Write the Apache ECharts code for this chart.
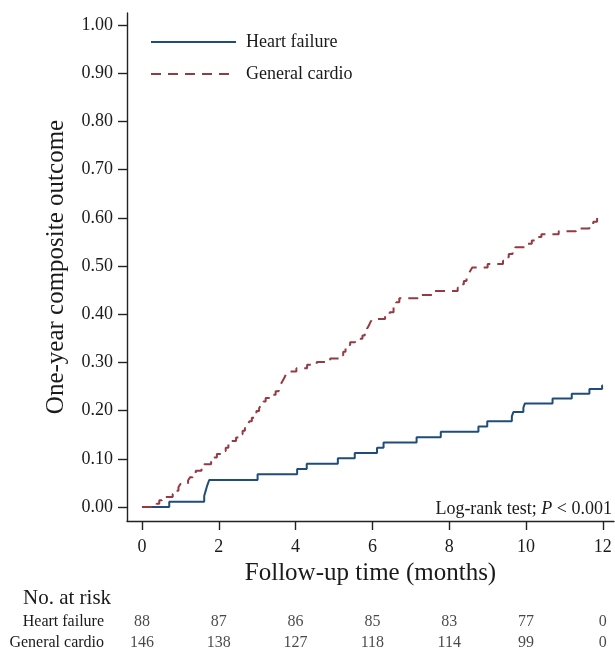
<!DOCTYPE html>
<html><head><meta charset="utf-8">
<script src="https://cdn.jsdelivr.net/npm/echarts@6/dist/echarts.min.js"></script>
<style>html,body{margin:0;padding:0;background:#fff}#c{width:615px;height:653px}</style>
</head><body><div id="c"></div>
<script>
const xTicks = [0, 2, 4, 6, 8, 10, 12];
const yTicks = [0, 0.1, 0.2, 0.3, 0.4, 0.5, 0.6, 0.7, 0.8, 0.9, 1.0];
const seriesNames = ['Heart failure', 'General cardio'];

const hfTime  = [0, 0.71, 1.62, 1.66, 1.70, 1.75, 3.01, 4.04, 4.29, 5.10, 5.54, 6.12, 6.29, 7.15, 7.78, 8.76, 8.99, 9.63, 9.67, 9.93, 9.97, 10.69, 11.19, 11.65, 11.98, 12.0];
const hfValue = [0, 0.011, 0.023, 0.034, 0.045, 0.056, 0.068, 0.079, 0.090, 0.101, 0.112, 0.123, 0.134, 0.145, 0.156, 0.167, 0.178, 0.188, 0.197, 0.206, 0.215, 0.225, 0.235, 0.245, 0.252, 0.252];

const gcTime  = [0, 0.38, 0.45, 0.52, 0.80, 0.88, 0.95, 1.00, 1.20, 1.25, 1.32, 1.40, 1.55, 1.62, 1.80, 1.88, 1.95, 2.10, 2.18, 2.25, 2.32, 2.45, 2.55, 2.62, 2.68, 2.75, 2.80, 2.86, 2.92, 2.98, 3.05, 3.10, 3.16, 3.22, 3.40, 3.48, 3.56, 3.60, 3.65, 3.70, 3.74, 3.78, 4.02, 4.30, 4.55, 4.90, 5.18, 5.24, 5.30, 5.36, 5.42, 5.55, 5.74, 5.80, 5.86, 5.91, 5.95, 6.00, 6.33, 6.45, 6.55, 6.62, 6.70, 7.28, 7.60, 8.22, 8.30, 8.38, 8.45, 8.50, 8.55, 8.60, 9.00, 9.40, 9.48, 9.55, 9.65, 9.72, 10.05, 10.15, 10.30, 10.40, 10.85, 11.30, 11.65, 11.75, 11.85, 11.93];
const gcValue = [0, 0.007, 0.014, 0.021, 0.027, 0.034, 0.041, 0.048, 0.055, 0.062, 0.068, 0.075, 0.082, 0.089, 0.096, 0.103, 0.110, 0.116, 0.123, 0.130, 0.137, 0.144, 0.151, 0.158, 0.164, 0.171, 0.178, 0.185, 0.192, 0.199, 0.205, 0.212, 0.219, 0.226, 0.233, 0.240, 0.247, 0.253, 0.260, 0.267, 0.274, 0.281, 0.288, 0.295, 0.301, 0.308, 0.315, 0.322, 0.329, 0.336, 0.342, 0.349, 0.356, 0.363, 0.370, 0.377, 0.384, 0.390, 0.397, 0.404, 0.418, 0.425, 0.433, 0.440, 0.448, 0.455, 0.462, 0.469, 0.476, 0.483, 0.490, 0.497, 0.504, 0.511, 0.518, 0.525, 0.532, 0.539, 0.546, 0.553, 0.560, 0.566, 0.572, 0.578, 0.585, 0.592, 0.600, 0.600];

const riskTimes = [0, 2, 4, 6, 8, 10, 12];
const hfRisk = [88, 87, 86, 85, 83, 77, 0];
const gcRisk = [146, 138, 127, 118, 114, 99, 0];

const FONT = 'Liberation Serif';
const TXT = '#1a1a1a';
const BLUE = '#1f4d78';
const RED = '#943a42';

const zip = (a, b) => a.map((t, i) => [t, b[i]]);

const chart = echarts.init(document.getElementById('c'), null, {renderer: 'canvas'});
chart.setOption({
  backgroundColor: '#fff',
  animation: false,
  textStyle: {fontFamily: FONT, color: TXT},
  grid: [
    {left: 127, top: 13, width: 487, height: 508},
    {left: 127, top: 612, width: 487, height: 42}
  ],
  xAxis: [{
    type: 'value', gridIndex: 0, min: -0.39, max: 12.29,
    name: 'Follow-up time (months)', nameLocation: 'middle', nameGap: 31,
    nameTextStyle: {fontFamily: FONT, fontSize: 25, color: TXT},
    axisLine: {onZero: false, lineStyle: {color: '#222', width: 1.4}},
    axisTick: {customValues: xTicks, length: 9, lineStyle: {color: '#222', width: 1.4}},
    axisLabel: {customValues: xTicks, fontFamily: FONT, fontSize: 18, color: TXT, margin: 17, formatter: v => String(v)},
    splitLine: {show: false}
  }, {
    type: 'value', gridIndex: 1, min: -0.39, max: 12.29, show: false
  }],
  yAxis: [{
    type: 'value', gridIndex: 0, min: -0.029, max: 1.025,
    name: 'One-year composite outcome', nameLocation: 'middle', nameGap: 58,
    nameTextStyle: {fontFamily: FONT, fontSize: 25, color: TXT},
    axisLine: {show: true, onZero: false, lineStyle: {color: '#222', width: 1.4}},
    axisTick: {show: true, customValues: yTicks, length: 9, lineStyle: {color: '#222', width: 1.4}},
    axisLabel: {customValues: yTicks, fontFamily: FONT, fontSize: 18, color: TXT, margin: 14, formatter: v => v.toFixed(2)},
    splitLine: {show: false}
  }, {
    type: 'category', gridIndex: 1, inverse: true, data: seriesNames,
    axisLine: {show: false}, axisTick: {show: false},
    axisLabel: {interval: 0, fontFamily: FONT, fontSize: 16, color: TXT, margin: 23}
  }],
  legend: {
    data: seriesNames, orient: 'vertical', left: 145, top: 27,
    itemWidth: 85, itemHeight: 14, itemGap: 12,
    itemStyle: {color: 'rgba(0,0,0,0)', borderWidth: 0, opacity: 0},
    textStyle: {fontFamily: FONT, fontSize: 18, color: TXT, lineHeight: 20, padding: [0, 0, 0, 5]},
    selectedMode: false
  },
  series: [{
    name: 'Heart failure', type: 'line', xAxisIndex: 0, yAxisIndex: 0,
    step: 'end', symbol: 'none', data: zip(hfTime, hfValue),
    lineStyle: {color: BLUE, width: 2}, itemStyle: {color: BLUE}
  }, {
    name: 'General cardio', type: 'line', xAxisIndex: 0, yAxisIndex: 0,
    step: 'end', symbol: 'none', data: zip(gcTime, gcValue),
    lineStyle: {color: RED, width: 2, type: [10, 7]}, itemStyle: {color: RED}
  }, {
    name: 'riskHF', type: 'scatter', xAxisIndex: 1, yAxisIndex: 1, symbolSize: 0, silent: true,
    data: riskTimes.map((t, i) => [t, seriesNames[0], hfRisk[i]]),
    label: {show: true, position: 'inside', formatter: p => String(p.value[2]), fontFamily: FONT, fontSize: 16, color: TXT}
  }, {
    name: 'riskGC', type: 'scatter', xAxisIndex: 1, yAxisIndex: 1, symbolSize: 0, silent: true,
    data: riskTimes.map((t, i) => [t, seriesNames[1], gcRisk[i]]),
    label: {show: true, position: 'inside', formatter: p => String(p.value[2]), fontFamily: FONT, fontSize: 16, color: TXT}
  }],
  graphic: [{
    type: 'text', right: 3, top: 500,
    style: {
      text: '{a|Log-rank test; }{i|P}{a| < 0.001}',
      rich: {
        a: {fontFamily: FONT, fontSize: 18, fill: TXT},
        i: {fontFamily: FONT, fontSize: 18, fontStyle: 'italic', fill: TXT}
      }
    }
  }, {
    type: 'text', left: 23, top: 588,
    style: {text: 'No. at risk', fontFamily: FONT, fontSize: 21, fill: TXT}
  }]
});
</script>
</body></html>
